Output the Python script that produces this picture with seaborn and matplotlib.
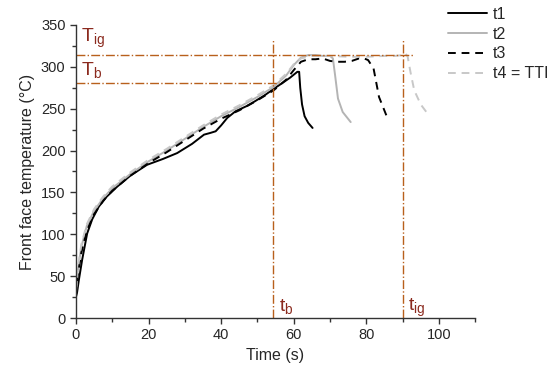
import matplotlib

matplotlib.use("Agg")

import matplotlib.pyplot as plt
import pandas as pd
import seaborn as sns

# series
t1_time = [0, 0.3, 0.8, 1.7, 3.1, 4.5, 6.3, 8.5, 11.4, 15, 19.6, 24, 27.9, 32, 35.3, 37, 38.5,
           40, 41.7, 44, 47, 49, 52, 54.6, 57, 59, 61, 61.5, 61.8, 62.3, 63.0, 64, 65.2]
t1_temp = [25, 30, 45, 69, 101, 118, 133, 145, 157, 170, 183, 190, 197, 208, 219, 221, 223,
           230, 239, 247, 253, 258, 266, 274, 281, 287, 294, 294, 275, 255, 241, 233, 227]

t2_time = [0, 0.5, 1.5, 3, 5, 7.5, 10, 15, 20, 25, 30, 35, 40, 45, 50, 54.5, 58, 60, 62, 64,
           66, 68, 70, 70.8, 71.4, 72.2, 73.5, 75.7]
t2_temp = [30, 55, 85, 110, 128, 143, 155, 172, 187, 200, 214, 228, 241, 252, 264, 276, 290,
           302, 311, 314, 314, 313, 313, 310, 290, 262, 246, 234]

t3_time = [0, 0.5, 1.5, 3, 5, 7.5, 10, 15, 20, 25, 30, 35, 40, 45, 50, 54.5, 58, 60, 62, 64,
           66, 68, 70, 72, 74, 76, 78, 79.4, 80.5, 82, 83.5, 85.8]
t3_temp = [28, 50, 78, 104, 124, 140, 152, 170, 185, 198, 212, 226, 238, 248, 260, 272, 285,
           296, 306, 309, 309, 310, 307, 306, 306, 307, 310, 310, 308, 298, 264, 239]

t4_time = [0, 0.5, 1.5, 3, 5, 7.5, 10, 15, 20, 25, 30, 35, 40, 45, 50, 54.5, 58, 60, 62, 65,
           70, 75, 80, 85, 88, 90, 90.8, 91.4, 92.2, 93.2, 95, 96.9]
t4_temp = [32, 58, 88, 112, 130, 145, 157, 174, 189, 202, 216, 230, 243, 254, 266, 278, 292,
           303, 310, 313, 313, 312, 312, 313, 313, 314, 316, 312, 293, 272, 255, 244]

T_ig = 314
T_b = 281
t_b = 54.4
t_ig = 90.1

sns.set_theme(style="ticks")
plt.rcParams["font.family"] = ["Liberation Sans", "DejaVu Sans"]
plt.rcParams["mathtext.fontset"] = "custom"
plt.rcParams["mathtext.rm"] = "Liberation Sans"
plt.rcParams["mathtext.it"] = "Liberation Sans"

fig = plt.figure(figsize=(5.5, 3.72), dpi=100)
ax = fig.add_axes([0.138, 0.145, 0.726, 0.788])

ref_c = "#b8601c"
txt_c = "#8b2a1e"

series = [
    ("t1", t1_time, t1_temp, "black", "-"),
    ("t2", t2_time, t2_temp, "#b4b4b4", "-"),
    ("t3", t3_time, t3_temp, "black", (0, (4, 3))),
    ("t4 = TTI", t4_time, t4_temp, "#c8c8c8", (0, (4, 3))),
]
for name, tt, vv, col, ls in series:
    df = pd.DataFrame({"time": tt, "temp": vv})
    sns.lineplot(data=df, x="time", y="temp", ax=ax, color=col, linestyle=ls,
                 linewidth=1.4, label=name, sort=False)

# reference lines
ax.plot([0, 93], [T_ig, T_ig], color=ref_c, linestyle="-.", linewidth=1.0)
ax.plot([0, 56], [T_b, T_b], color=ref_c, linestyle="-.", linewidth=1.0)
ax.plot([t_b, t_b], [0, 333], color=ref_c, linestyle="-.", linewidth=1.0)
ax.plot([t_ig, t_ig], [0, 333], color=ref_c, linestyle="-.", linewidth=1.0)

ax.text(1.5, 330, r"$\mathregular{T_{ig}}$", color=txt_c, fontsize=14)
ax.text(1.5, 290, r"$\mathregular{T_{b}}$", color=txt_c, fontsize=14)
ax.text(t_b + 1.5, 8, r"$\mathregular{t_{b}}$", color=txt_c, fontsize=14)
ax.text(t_ig + 1.5, 8, r"$\mathregular{t_{ig}}$", color=txt_c, fontsize=14)

ax.set_xlim(0, 110)
ax.set_ylim(0, 350)
ax.set_xticks([0, 20, 40, 60, 80, 100])
ax.set_xticks(range(10, 111, 20), minor=True)
ax.set_yticks(range(0, 351, 50))
ax.set_yticks(range(25, 351, 50), minor=True)
ax.tick_params(axis="both", which="major", labelsize=10.5, length=4, width=1, color="#333333")
ax.tick_params(axis="both", which="minor", length=3, width=1, color="#333333")
ax.set_xlabel("Time (s)", fontsize=11.5)
ax.set_ylabel("Front face temperature (°C)", fontsize=11.5)
sns.despine(ax=ax)
for sp in ("left", "bottom"):
    ax.spines[sp].set_color("#333333")
    ax.spines[sp].set_linewidth(1)

ax.legend(loc="upper left", bbox_to_anchor=(0.795, 1.012), bbox_transform=fig.transFigure,
          frameon=False, fontsize=11.5, handlelength=2.4, handletextpad=0.4,
          labelspacing=0.3, borderaxespad=0.3)

fig.savefig("out.png", dpi=100)
